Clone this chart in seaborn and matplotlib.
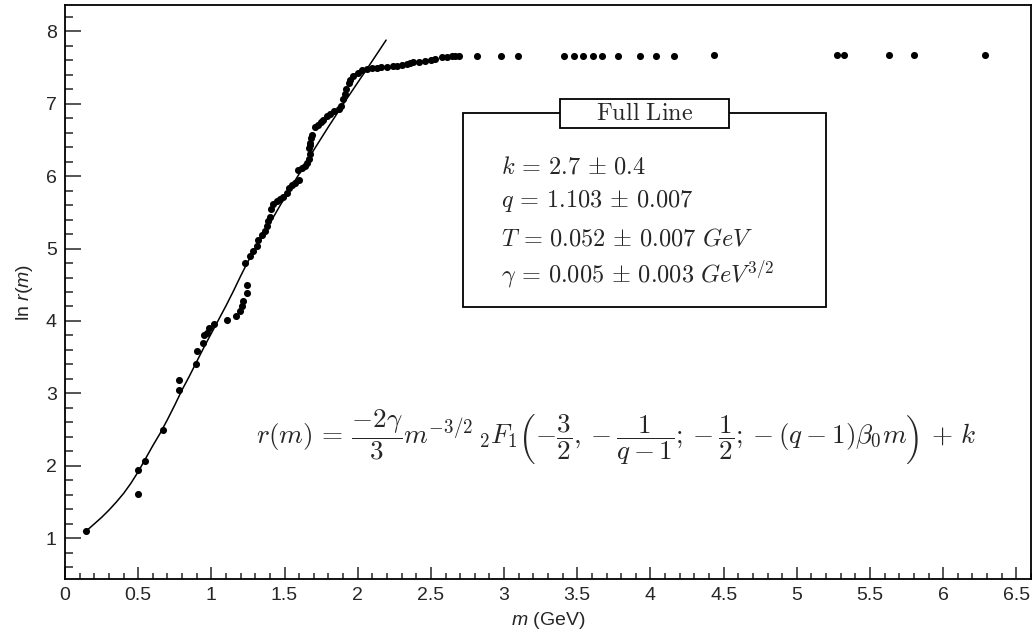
import numpy as np
import pandas as pd
import matplotlib
matplotlib.use("Agg")
import matplotlib.pyplot as plt
import matplotlib.ticker as ticker
from matplotlib.patches import Rectangle
import seaborn as sns

# measured points (m in GeV, ln r(m))
m_data = [0.144, 0.497, 0.497, 0.547, 0.668, 0.777, 0.780, 0.893, 0.900, 0.945,
          0.950, 0.968, 0.984, 1.016, 1.110, 1.169, 1.198, 1.208, 1.215, 1.242,
          1.242, 1.230, 1.265, 1.287, 1.310, 1.320, 1.344, 1.367, 1.378, 1.390,
          1.400, 1.410, 1.424, 1.447, 1.470, 1.490, 1.515, 1.533, 1.550, 1.570,
          1.600, 1.595, 1.618, 1.640, 1.656, 1.670, 1.675, 1.670, 1.672, 1.675,
          1.680, 1.686, 1.709, 1.730, 1.750, 1.766, 1.789, 1.810, 1.840, 1.870,
          1.886, 1.900, 1.910, 1.920, 1.940, 1.950, 1.970, 2.000, 2.030, 2.060,
          2.100, 2.130, 2.160, 2.200, 2.240, 2.270, 2.300, 2.335, 2.360, 2.380,
          2.420, 2.460, 2.500, 2.530, 2.575, 2.609, 2.643, 2.666, 2.695, 2.818,
          2.980, 3.096, 3.406, 3.479, 3.539, 3.605, 3.670, 3.775, 3.930, 4.037,
          4.163, 4.431, 5.275, 5.325, 5.627, 5.803, 6.288]
lnr_data = [1.10, 1.945, 1.61, 2.07, 2.49, 3.05, 3.19, 3.41, 3.59, 3.69,
            3.80, 3.83, 3.90, 3.96, 4.02, 4.07, 4.14, 4.21, 4.28, 4.38,
            4.50, 4.80, 4.89, 4.96, 5.03, 5.12, 5.19, 5.24, 5.31, 5.38,
            5.44, 5.54, 5.61, 5.65, 5.68, 5.71, 5.77, 5.84, 5.88, 5.91,
            5.95, 6.09, 6.11, 6.14, 6.18, 6.24, 6.30, 6.39, 6.43, 6.46,
            6.53, 6.57, 6.67, 6.70, 6.74, 6.77, 6.83, 6.86, 6.90, 6.93,
            6.97, 7.06, 7.13, 7.20, 7.29, 7.33, 7.38, 7.42, 7.46, 7.48,
            7.49, 7.49, 7.50, 7.51, 7.52, 7.52, 7.53, 7.55, 7.56, 7.57,
            7.58, 7.59, 7.60, 7.62, 7.64, 7.645, 7.65, 7.65, 7.65, 7.655,
            7.655, 7.655, 7.66, 7.66, 7.66, 7.66, 7.66, 7.66, 7.66, 7.66,
            7.66, 7.665, 7.67, 7.67, 7.67, 7.67, 7.67]

# fitted curve
m_fit = [0.144, 0.20, 0.25, 0.30, 0.35, 0.40, 0.45, 0.50, 0.55, 0.60, 0.65,
         0.70, 0.75, 0.80, 0.85, 0.90, 0.95, 1.00, 1.05, 1.10, 1.15, 1.20,
         1.25, 1.30, 1.40, 1.50, 1.60, 1.70, 1.80, 1.90, 2.00, 2.10, 2.194]
lnr_fit = [1.10, 1.20, 1.29, 1.39, 1.50, 1.62, 1.76, 1.92, 2.10, 2.28, 2.45,
           2.64, 2.84, 3.05, 3.24, 3.44, 3.64, 3.83, 4.02, 4.21, 4.41, 4.62,
           4.82, 5.00, 5.35, 5.70, 6.03, 6.36, 6.68, 6.99, 7.29, 7.59, 7.876]

fit_params = [r"$k\,=\,2.7\,\pm\,0.4$",
              r"$q\,=\,1.103\,\pm\,0.007$",
              r"$T\,=\,0.052\,\pm\,0.007\ GeV$",
              r"$\gamma\,=\,0.005\,\pm\,0.003\ GeV^{3/2}$"]
formula = (r"$r(m)\,=\,\dfrac{-2\gamma}{3}m^{-3/2}\,{}_2F_1\left(-\dfrac{3}{2},"
           r"-\dfrac{1}{q-1};-\dfrac{1}{2};-(q-1)\beta_0 m\right)\,+\,k$")

sns.set_theme(style="ticks")
plt.rcParams["font.family"] = ["Liberation Sans", "DejaVu Sans"]
plt.rcParams["mathtext.fontset"] = "custom"
plt.rcParams["mathtext.rm"] = "Liberation Sans"
plt.rcParams["mathtext.it"] = "Liberation Sans:italic"

W, H = 1033, 635
fig = plt.figure(figsize=(W / 100, H / 100), dpi=100)
ax = fig.add_axes([65 / W, 1 - 579 / H, (1031 - 65) / W, (579 - 5) / H])

pts = pd.DataFrame({"m": m_data, "lnr": lnr_data})
fit = pd.DataFrame({"m": m_fit, "lnr": lnr_fit})

sns.lineplot(data=fit, x="m", y="lnr", sort=False, estimator=None,
             color="black", lw=1.1, ax=ax)
sns.scatterplot(data=pts, x="m", y="lnr", color="black", s=26,
                linewidth=0, ax=ax, zorder=3)

ax.set_xlim(0, 6.6)
ax.set_ylim(0.44, 8.36)
ax.xaxis.set_major_locator(ticker.MultipleLocator(0.5))
ax.xaxis.set_minor_locator(ticker.MultipleLocator(0.1))
ax.yaxis.set_major_locator(ticker.MultipleLocator(1))
ax.yaxis.set_minor_locator(ticker.MultipleLocator(0.2))
ax.xaxis.set_major_formatter(ticker.FuncFormatter(lambda v, p: f"{v:g}"))
ax.tick_params(axis="x", which="major", direction="in", length=8.5, width=1.1,
               labelsize=14, pad=6, top=False)
ax.tick_params(axis="x", which="minor", direction="in", length=4.3, width=1.1, top=False)
ax.tick_params(axis="y", which="major", direction="in", length=11.5, width=1.1,
               labelsize=14, pad=6, right=False)
ax.tick_params(axis="y", which="minor", direction="in", length=5.8, width=1.1, right=False)
for s in ax.spines.values():
    s.set_visible(True)
    s.set_linewidth(1.3)
    s.set_color("black")

ax.set_xlabel(r"$\mathit{m}$ (GeV)", fontsize=14, labelpad=4)
ax.set_ylabel(r"ln $\mathit{r}$($\mathit{m}$)", fontsize=14, labelpad=8)


def fx(px):
    return px / W


def fy(py):
    return 1 - py / H


# parameter box
fig.patches.append(Rectangle((fx(463), fy(307)), (826 - 463) / W, (307 - 113) / H,
                             transform=fig.transFigure, fill=False,
                             edgecolor="black", lw=1.3, zorder=4))
fig.patches.append(Rectangle((fx(560), fy(128)), (729 - 560) / W, (128 - 99) / H,
                             transform=fig.transFigure, facecolor="white",
                             edgecolor="black", lw=1.3, zorder=5))
fig.text(fx(645), fy(114), r"$\mathrm{Full\ Line}$", ha="center", va="center",
         fontsize=17.5, math_fontfamily="cm", zorder=6)
for txt, base in zip(fit_params, [173, 207, 245, 282]):
    fig.text(fx(501), fy(base), txt, ha="left", va="baseline",
             fontsize=17.5, math_fontfamily="cm")

fig.text(fx(616), fy(437), formula, ha="center", va="center",
         fontsize=19.5, math_fontfamily="cm")

fig.savefig("out.png", dpi=100)
